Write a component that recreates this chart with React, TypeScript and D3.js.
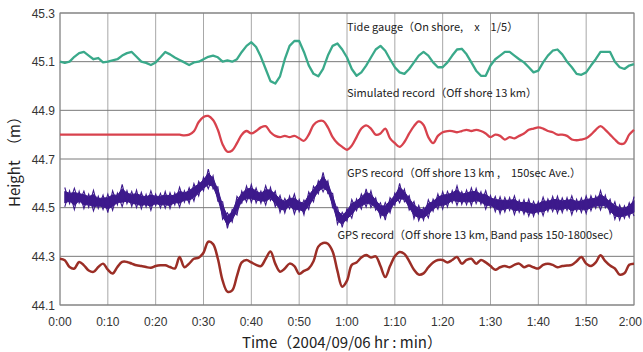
import React from "react";
import * as d3 from "d3";

const W = 643;
const H = 352;

const xTickLabels = ["0:00","0:10","0:20","0:30","0:40","0:50","1:00","1:10","1:20","1:30","1:40","1:50","2:00"];
const yTicks = [44.1, 44.3, 44.5, 44.7, 44.9, 45.1, 45.3];

// minutes 0..120 (1 min step)
const tideGauge = [
  45.10,45.095,45.10,45.12,45.135,45.14,45.125,45.11,45.115,45.097,
  45.10,45.105,45.11,45.125,45.135,45.14,45.12,45.10,45.095,45.086,
  45.097,45.118,45.14,45.13,45.117,45.107,45.097,45.086,45.097,45.10,
  45.11,45.12,45.125,45.118,45.10,45.105,45.10,45.11,45.14,45.165,
  45.18,45.16,45.12,45.07,45.02,45.01,45.04,45.11,45.165,45.185,
  45.185,45.14,45.085,45.05,45.04,45.07,45.125,45.165,45.175,45.15,
  45.117,45.07,45.042,45.056,45.084,45.117,45.15,45.165,45.145,45.11,
  45.077,45.056,45.05,45.07,45.097,45.125,45.14,45.125,45.097,45.077,
  45.077,45.097,45.125,45.15,45.153,45.13,45.097,45.063,45.042,45.042,
  45.084,45.11,45.125,45.14,45.14,45.125,45.11,45.097,45.077,45.056,
  45.063,45.097,45.125,45.145,45.15,45.13,45.10,45.077,45.05,45.046,
  45.056,45.084,45.11,45.14,45.14,45.14,45.10,45.077,45.07,45.084,
  45.09
];

const simulated = [
  44.80,44.80,44.80,44.80,44.80,44.80,44.80,44.80,44.80,44.80,
  44.80,44.80,44.80,44.80,44.80,44.80,44.80,44.80,44.80,44.80,
  44.80,44.80,44.80,44.80,44.80,44.80,44.797,44.80,44.814,44.852,
  44.873,44.877,44.86,44.82,44.76,44.73,44.735,44.765,44.80,44.815,
  44.805,44.815,44.83,44.835,44.81,44.795,44.79,44.795,44.79,44.795,
  44.785,44.775,44.80,44.84,44.855,44.856,44.83,44.79,44.765,44.75,
  44.738,44.755,44.79,44.825,44.838,44.825,44.80,44.805,44.825,44.785,
  44.765,44.75,44.77,44.805,44.835,44.855,44.84,44.79,44.765,44.795,
  44.81,44.815,44.815,44.81,44.815,44.82,44.815,44.82,44.815,44.805,
  44.79,44.80,44.795,44.78,44.79,44.785,44.795,44.805,44.82,44.825,
  44.83,44.825,44.815,44.81,44.80,44.80,44.795,44.78,44.777,44.78,
  44.785,44.80,44.82,44.835,44.82,44.80,44.78,44.763,44.765,44.80,
  44.82
];

// GPS 150 s average: minutes 1..120, band centre and half-width of the noise
const gpsMid = [
  44.543,44.543,44.536,44.543,44.532,44.529,44.529,44.522,44.522,44.518,
  44.529,44.536,44.550,44.543,44.536,44.536,44.529,44.529,44.529,44.532,
  44.529,44.532,44.529,44.536,44.543,44.546,44.550,44.563,44.578,44.597,
  44.618,44.604,44.556,44.488,44.447,44.467,44.508,44.543,44.556,44.559,
  44.550,44.543,44.550,44.556,44.536,44.515,44.508,44.522,44.515,44.508,
  44.501,44.529,44.556,44.584,44.605,44.584,44.529,44.467,44.450,44.470,
  44.495,44.512,44.525,44.540,44.535,44.515,44.490,44.485,44.510,44.535,
  44.560,44.550,44.520,44.490,44.478,44.474,44.495,44.510,44.525,44.530,
  44.535,44.545,44.550,44.540,44.542,44.545,44.548,44.540,44.532,44.525,
  44.515,44.510,44.512,44.515,44.510,44.506,44.503,44.500,44.495,44.500,
  44.505,44.510,44.515,44.512,44.510,44.515,44.510,44.510,44.510,44.512,
  44.518,44.523,44.530,44.525,44.505,44.488,44.480,44.482,44.490,44.505
];
const gpsSpread = [
  0.040,0.026,0.044,0.024,0.036,0.027,0.042,0.025,0.030,0.038,
  0.040,0.024,0.046,0.027,0.031,0.036,0.034,0.026,0.040,0.024,
  0.030,0.034,0.033,0.025,0.041,0.024,0.032,0.036,0.030,0.028,
  0.040,0.027,0.030,0.036,0.032,0.026,0.038,0.025,0.033,0.037,
  0.031,0.025,0.040,0.027,0.032,0.035,0.030,0.026,0.041,0.025,
  0.030,0.036,0.032,0.027,0.040,0.026,0.030,0.035,0.031,0.026,
  0.038,0.024,0.031,0.037,0.034,0.025,0.030,0.036,0.031,0.025,
  0.040,0.026,0.030,0.035,0.031,0.026,0.037,0.025,0.031,0.036,
  0.032,0.025,0.040,0.026,0.030,0.036,0.031,0.026,0.038,0.025,
  0.031,0.035,0.030,0.026,0.039,0.025,0.030,0.035,0.031,0.025,
  0.038,0.026,0.031,0.035,0.030,0.026,0.039,0.025,0.030,0.036,
  0.031,0.025,0.040,0.026,0.030,0.036,0.031,0.026,0.030,0.040
];

const bandPass = [
  44.29,44.284,44.256,44.25,44.277,44.263,44.242,44.236,44.256,44.27,
  44.245,44.229,44.256,44.277,44.277,44.27,44.263,44.26,44.256,44.253,
  44.26,44.263,44.263,44.256,44.25,44.297,44.255,44.27,44.29,44.295,
  44.315,44.36,44.35,44.29,44.20,44.155,44.16,44.22,44.275,44.285,
  44.275,44.265,44.26,44.29,44.32,44.27,44.237,44.25,44.27,44.26,
  44.228,44.24,44.25,44.28,44.34,44.355,44.352,44.32,44.24,44.175,
  44.20,44.265,44.275,44.295,44.305,44.295,44.30,44.26,44.215,44.26,
  44.30,44.318,44.31,44.28,44.245,44.225,44.23,44.255,44.275,44.285,
  44.285,44.275,44.285,44.297,44.27,44.285,44.29,44.27,44.285,44.275,
  44.26,44.245,44.255,44.26,44.255,44.265,44.27,44.255,44.262,44.255,
  44.25,44.265,44.27,44.265,44.255,44.26,44.262,44.265,44.28,44.297,
  44.27,44.26,44.275,44.304,44.28,44.262,44.25,44.225,44.23,44.265,
  44.27
];

const labels = [
  { text: "Tide gauge（On shore,　x　1/5）", t: 60, v: 45.225 },
  { text: "Simulated record（Off shore 13 km）", t: 60, v: 44.956 },
  { text: "GPS record（Off shore 13 km ,　150sec Ave.）", t: 60, v: 44.628 },
  { text: "GPS record（Off shore 13 km, Band pass 150-1800sec）", t: 58, v: 44.37 },
];

const M = { left: 60, right: 9, top: 13, bottom: 47 };

export default function App() {
  const x = d3.scaleLinear().domain([0, 120]).range([M.left, W - M.right]);
  const y = d3.scaleLinear().domain([44.1, 45.3]).range([H - M.bottom, M.top]);

  const lineLin = d3.line<number>().x((_, i) => x(i)).y((d) => y(d));
  const lineSmooth = d3
    .line<number>()
    .x((_, i) => x(i))
    .y((d) => y(d))
    .curve(d3.curveCatmullRom.alpha(0.5));
  const gpsArea = d3
    .area<number>()
    .x((_, i) => x(i + 1))
    .y0((d, i) => y(d - gpsSpread[i] * 0.6))
    .y1((d, i) => y(d + gpsSpread[i] * 0.6))
    .curve(d3.curveLinear);
  // noise spikes: zig-zag between the band's extremes
  const gpsZig = d3
    .line<number>()
    .x((_, i) => x(i + 1))
    .y((d, i) => y(i % 2 === 0 ? d + gpsSpread[i] : d - gpsSpread[i]));
  const gpsZig2 = d3
    .line<number>()
    .x((_, i) => x(i + 1))
    .y((d, i) => y(i % 2 === 1 ? d + gpsSpread[i] : d - gpsSpread[i]));

  const xTicks = d3.range(0, 121, 10);
  const font = "'Liberation Sans', Arial, 'Noto Sans CJK JP', sans-serif";
  const jp = "'Noto Sans CJK JP', 'Liberation Sans', sans-serif";

  return (
    <svg
      width={W}
      height={H}
      style={{ position: "absolute", left: 0, top: 0, background: "#fff" }}
    >
      <rect x={0} y={0} width={W} height={H} fill="#fff" />
      {xTicks.map((t) => (
        <line key={"vx" + t} x1={x(t)} x2={x(t)} y1={y(45.3)} y2={y(44.1)} stroke="#a8a8a8" strokeWidth={1} />
      ))}
      {yTicks.map((v) => (
        <line key={"hy" + v} x1={x(0)} x2={x(120)} y1={y(v)} y2={y(v)} stroke="#7a7a7a" strokeWidth={1} />
      ))}
      <rect x={x(0)} y={y(45.3)} width={x(120) - x(0)} height={y(44.1) - y(45.3)} fill="none" stroke="#888" strokeWidth={1} />

      <path d={gpsArea(gpsMid) || ""} fill="#3d1a8c" stroke="#3d1a8c" strokeWidth={1} />
      <path d={gpsZig(gpsMid) || ""} fill="none" stroke="#3d1a8c" strokeWidth={1.1} />
      <path d={gpsZig2(gpsMid) || ""} fill="none" stroke="#3d1a8c" strokeWidth={1.1} />
      <path d={lineLin(tideGauge) || ""} fill="none" stroke="#3aa98a" strokeWidth={2.3} strokeLinejoin="round" />
      <path d={lineSmooth(simulated) || ""} fill="none" stroke="#d8424d" strokeWidth={2.3} strokeLinejoin="round" />
      <path d={lineSmooth(bandPass) || ""} fill="none" stroke="#9b2e26" strokeWidth={2.5} strokeLinejoin="round" />

      {yTicks.map((v) => (
        <text key={"yl" + v} x={x(0) - 5} y={y(v) + 4.5} textAnchor="end" fontFamily={font} fontSize={12} fill="#333">
          {v.toFixed(1)}
        </text>
      ))}
      {xTicks.map((t, i) => (
        <text
          key={"xl" + t}
          x={i === xTicks.length - 1 ? W - 1 : x(t)}
          y={326}
          textAnchor={i === xTicks.length - 1 ? "end" : "middle"}
          fontFamily={font}
          fontSize={12}
          fill="#333"
        >
          {xTickLabels[i]}
        </text>
      ))}

      {labels.map((l) => (
        <text key={l.text} x={x(l.t)} y={y(l.v)} fontFamily={jp} fontSize={11} fill="#222">
          {l.text}
        </text>
      ))}

      <text x={342} y={348} textAnchor="middle" fontFamily={jp} fontSize={15} fill="#222">
        Time（2004/09/06 hr : min）
      </text>
      <text
        transform={`translate(20, 158) rotate(-90)`}
        textAnchor="middle"
        fontFamily={jp}
        fontSize={15}
        fill="#222"
      >
        Height　（m）
      </text>
    </svg>
  );
}
